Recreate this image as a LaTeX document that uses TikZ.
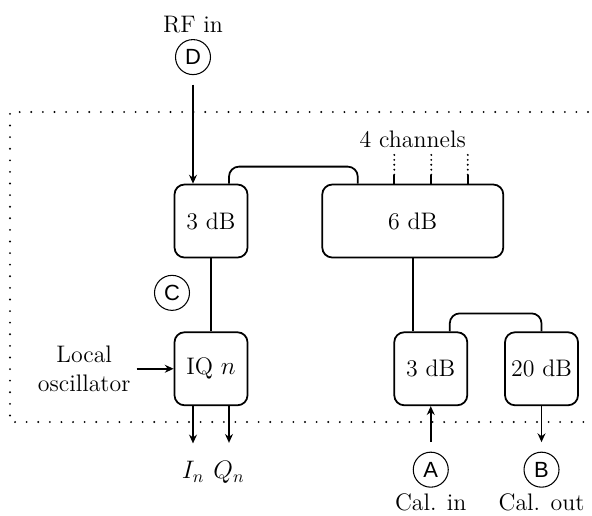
\documentclass[tikz,border=0pt]{standalone}
\usepackage{fontspec}
\newfontfamily\circfont{Liberation Sans}
\usetikzlibrary{calc,positioning,arrows.meta}

\begin{document}
\begin{tikzpicture}[
    node distance=1.46cm and 1.46cm,
    every node/.style={font=\fontsize{13.6}{16}\selectfont},
    blk/.style={rectangle, rounded corners=0.2cm, draw=black, line width=1pt,
                minimum width=1.46cm, minimum height=1.46cm, align=center},
    wide/.style={blk, minimum width=3.62cm},
    circ/.style={circle, draw=black, line width=0.6pt, minimum size=0.7cm,
                 inner sep=0pt, font=\circfont\fontsize{12.5}{14}\selectfont},
    arr/.style={-{Stealth[length=5pt, width=4.5pt]}, line width=1pt},
    wire/.style={line width=1pt, rounded corners=0.2cm},
    chan/.style={line width=1.2pt, line cap=round, dash pattern=on 0pt off 2.8pt},
    frame/.style={line width=1.2pt, line cap=round, dash pattern=on 0pt off 6.6pt}
]
\useasboundingbox (0,0) rectangle (11.84,-10.3);

% boxes
\node[blk]                                   (att3)  at (4.22,-4.42) {3 dB};
\node[wide, right=of att3]                   (att6)  {6 dB};
\node[blk, below=of att3]                    (iq)    {IQ $n$};
\node[blk, below=of att6, xshift=0.36cm]     (cal3)  {3 dB};
\node[blk, right=0.72cm of cal3]             (att20) {20 dB};

% ports
\node[circ, above=2.17cm of att3, xshift=-0.36cm,
      label={[label distance=0pt]above:RF in}]           (D) {D};
\node[circ, above=0.41cm of iq, xshift=-0.78cm]          (C) {C};
\node[circ, below=0.91cm of cal3, label=below:Cal. in]   (A) {A};
\node[circ, below=0.91cm of att20, label=below:Cal. out] (B) {B};

\node[align=center, left=0.74cm of iq]       (lo)    {Local\\oscillator};
\node (In) at ($(iq.south)+(-0.36,-1.32)$)   {$I_n$};
\node (Qn) at ($(iq.south)+(0.36,-1.32)$)    {$Q_n$};
\node[above=0.6cm of att6]                   (ch)    {4 channels};

% connections
\draw[arr, shorten <=0.19cm] (D) -- (D |- att3.north);
\draw[wire] ([xshift=0.36cm]att3.north) -- ++(0,0.34) -| ([xshift=-1.1cm]att6.north);
\draw[wire] (att3) -- (iq);
\draw[arr] (lo) -- (iq);
\draw[arr, shorten >=0.24cm] (In |- iq.south) -- (In);
\draw[arr, shorten >=0.24cm] (Qn |- iq.south) -- (Qn);
\draw[wire] (att6.south) -- (att6.south |- cal3.north);
\draw[wire] ([xshift=0.38cm]cal3.north) -- ++(0,0.36) -| (att20.north);
\draw[arr, shorten <=0.19cm] (A) -- (cal3);
\draw[arr, shorten >=0.19cm] (att20) -- (B);

\foreach \dx in {-0.37,0.37,1.1} {
  \draw[line width=1pt] ([xshift=\dx cm]att6.north) -- ++(0,0.18) coordinate (tap);
  \draw[chan] (tap) -- (tap |- ch.south);
}

% enclosure
\draw[frame] (11.76,-2.24) -- (0.2,-2.24) -- (0.2,-8.44) -- (11.76,-8.44);
\end{tikzpicture}
\end{document}
